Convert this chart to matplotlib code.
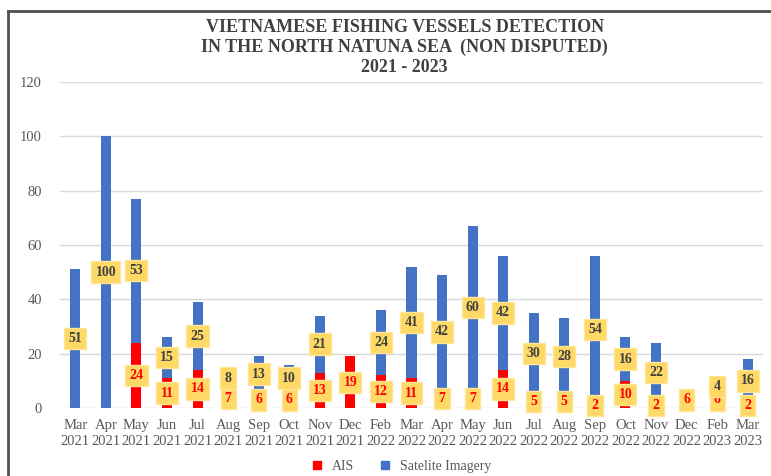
import matplotlib
matplotlib.use("Agg")
import matplotlib.pyplot as plt
from matplotlib.lines import Line2D
import numpy as np

months = ["Mar\n2021", "Apr\n2021", "May\n2021", "Jun\n2021", "Jul\n2021", "Aug\n2021",
          "Sep\n2021", "Oct\n2021", "Nov\n2021", "Dec\n2021", "Feb\n2022", "Mar\n2022",
          "Apr\n2022", "May\n2022", "Jun\n2022", "Jul\n2022", "Aug\n2022", "Sep\n2022",
          "Oct\n2022", "Nov\n2022", "Dec\n2022", "Feb\n2023", "Mar\n2023"]
ais = [0, 0, 24, 11, 14, 7, 6, 6, 13, 19, 12, 11, 7, 7, 14, 5, 5, 2, 10, 2, 6, 6, 2]
satellite = [51, 100, 53, 15, 25, 8, 13, 10, 21, 0, 24, 41, 42, 60, 42, 30, 28, 54, 16, 22, 0, 4, 16]

plt.rcParams['font.family'] = ['Liberation Serif', 'DejaVu Serif']

fig = plt.figure(figsize=(7.71, 4.76), dpi=100)
fig.patch.set_facecolor('white')
ax = fig.add_axes([60/771, 68/476, 703/771, 326/476])

x = np.arange(len(months))
w = 0.33
ais_arr = np.array(ais)
sat_arr = np.array(satellite)
ax.bar(x, ais_arr, w, color='#FF0000', label='AIS', zorder=2)
ax.bar(x, sat_arr, w, bottom=ais_arr, color='#4472C4', label='Satelite Imagery', zorder=2)

box = dict(boxstyle='square,pad=0.3', fc='#FFD966', ec='#FFE699', lw=1)
for i in range(len(months)):
    if ais[i] > 0:
        ax.text(x[i], ais[i] / 2, str(ais[i]), ha='center', va='center', fontsize=10,
                fontweight='bold', color='#FF0000', bbox=box, zorder=4)
    if satellite[i] > 0:
        ax.text(x[i], ais[i] + satellite[i] / 2, str(satellite[i]), ha='center', va='center',
                fontsize=10, fontweight='bold', color='#404040', bbox=box, zorder=4)

ax.set_xlim(-0.5, len(months) - 0.5)
ax.set_ylim(0, 120)
ax.set_yticks(np.arange(0, 121, 20))
ax.set_xticks(x)
ax.set_xticklabels(months, fontsize=10.5, color='#595959', linespacing=1.25)
ax.tick_params(axis='y', labelsize=10.5, colors='#595959', length=0, pad=13)
ax.tick_params(axis='x', length=0, pad=8)
ax.grid(axis='y', color='#D9D9D9', lw=1, zorder=0)
for s in ax.spines.values():
    s.set_visible(False)

fig.text(0.525, 0.961, "VIETNAMESE FISHING VESSELS DETECTION\nIN THE NORTH NATUNA SEA  (NON DISPUTED)\n2021 - 2023",
         ha='center', va='top', fontsize=13, fontweight='bold', color='#404040', linespacing=1.25)

handles = [Line2D([], [], marker='s', ls='', color='#FF0000', markersize=6),
           Line2D([], [], marker='s', ls='', color='#4472C4', markersize=6)]
fig.legend(handles, ['AIS', 'Satelite Imagery'], loc='center', bbox_to_anchor=(0.515, 0.02),
           ncol=2, frameon=False, fontsize=10, labelcolor='#595959', handletextpad=0.1,
           columnspacing=1.2)

# outer frame
fig.add_artist(Line2D([8/771, 1], [1 - 11/476, 1 - 11/476], color='#505050', lw=2, transform=fig.transFigure))
fig.add_artist(Line2D([8/771, 8/771], [0, 1 - 11/476], color='#505050', lw=2, transform=fig.transFigure))

fig.savefig('out.png', dpi=100)
